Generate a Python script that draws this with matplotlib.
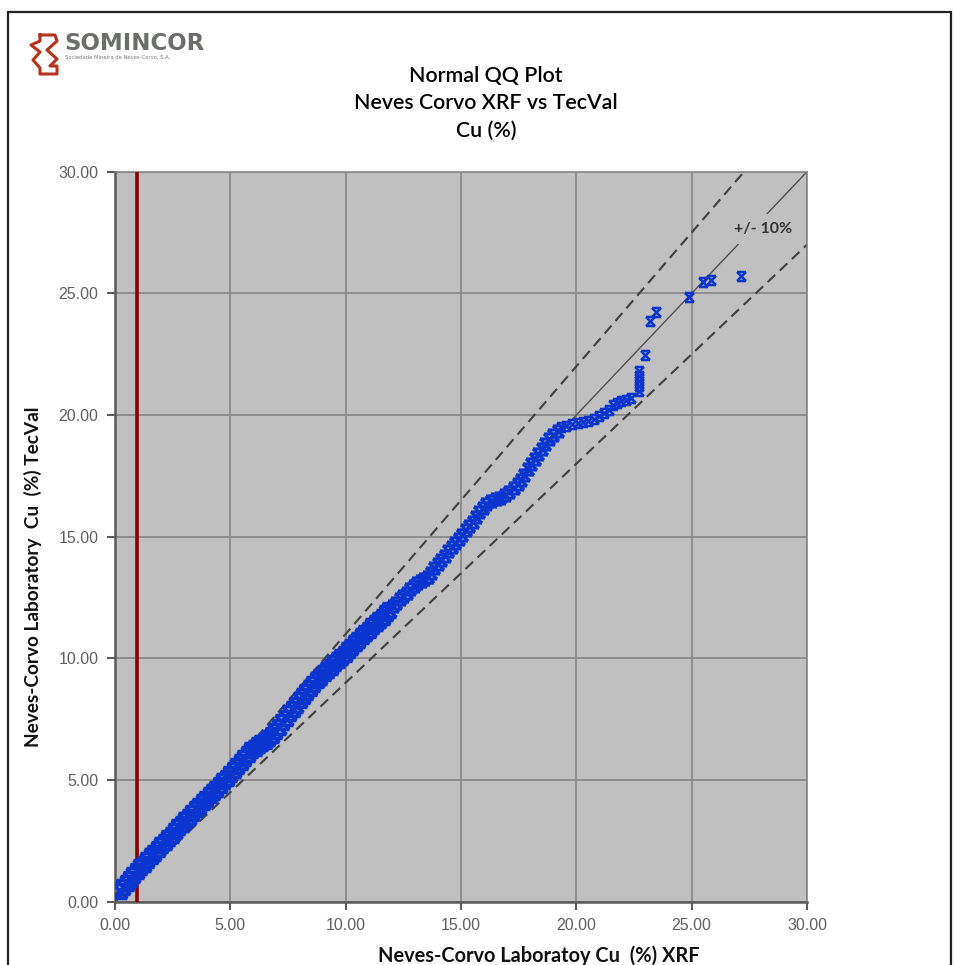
import matplotlib
matplotlib.use('Agg')
import matplotlib.pyplot as plt
from matplotlib.path import Path
from matplotlib.lines import Line2D
from matplotlib.patches import Rectangle

# QQ quantiles (XRF vs TecVal, Cu %)
cu_xrf = [0.20, 0.35, 0.50, 0.65, 0.80, 0.95, 1.10, 1.25, 1.40, 1.55,
          1.70, 1.85, 2.00, 2.15, 2.30, 2.45, 2.60, 2.75, 2.90, 3.05,
          3.20, 3.35, 3.50, 3.65, 3.80, 3.95, 4.10, 4.25, 4.40, 4.55,
          4.70, 4.85, 5.00, 5.15, 5.30, 5.45, 5.60, 5.75, 5.90, 6.05,
          6.20, 6.35, 6.50, 6.65, 6.80, 6.95, 7.10, 7.25, 7.40, 7.55,
          7.70, 7.85, 8.00, 8.15, 8.30, 8.45, 8.60, 8.75, 8.90, 9.05,
          9.20, 9.35, 9.50, 9.65, 9.80, 9.95, 10.10, 10.25, 10.40, 10.55,
          10.70, 10.85, 11.00, 11.15, 11.30, 11.45, 11.60, 11.75, 11.90, 12.05,
          12.20, 12.35, 12.50, 12.65, 12.80, 12.95, 13.10, 13.25, 13.40, 13.55,
          13.70, 13.85, 14.00, 14.15, 14.30, 14.45, 14.60, 14.75, 14.90, 15.05,
          15.20, 15.35, 15.50, 15.65, 15.80, 15.95, 16.10, 16.30, 16.50, 16.70,
          16.90, 17.10, 17.30, 17.45, 17.60, 17.75, 17.90, 18.05, 18.20, 18.35,
          18.50, 18.65, 18.80, 19.00, 19.20, 19.35, 19.56, 19.80, 20.06, 20.30,
          20.49, 20.75, 21.00, 21.20, 21.43, 21.58, 21.75, 21.94, 22.15, 22.37,
          22.70, 22.70, 22.70, 22.70, 22.70, 22.99, 23.19, 23.45, 24.89, 25.47,
          25.83, 27.13]
cu_tecval = [0.45, 0.62, 0.78, 0.95, 1.10, 1.26, 1.42, 1.56, 1.72, 1.87,
             2.02, 2.17, 2.32, 2.47, 2.62, 2.76, 2.90, 3.05, 3.20, 3.35,
             3.50, 3.64, 3.79, 3.93, 4.08, 4.22, 4.37, 4.51, 4.65, 4.80,
             4.95, 5.10, 5.25, 5.42, 5.58, 5.75, 5.92, 6.08, 6.22, 6.32,
             6.42, 6.52, 6.62, 6.72, 6.86, 7.02, 7.20, 7.38, 7.56, 7.74,
             7.92, 8.10, 8.28, 8.45, 8.62, 8.80, 8.95, 9.10, 9.24, 9.38,
             9.52, 9.66, 9.80, 9.93, 10.06, 10.20, 10.33, 10.47, 10.62, 10.76,
             10.90, 11.04, 11.18, 11.32, 11.45, 11.58, 11.72, 11.86, 12.00, 12.14,
             12.28, 12.42, 12.56, 12.70, 12.84, 12.98, 13.10, 13.20, 13.28, 13.36,
             13.50, 13.70, 13.88, 14.05, 14.22, 14.40, 14.58, 14.76, 14.92, 15.08,
             15.26, 15.42, 15.60, 15.80, 16.00, 16.18, 16.35, 16.48, 16.54, 16.60,
             16.70, 16.85, 17.00, 17.15, 17.35, 17.55, 17.80, 18.00, 18.20, 18.40,
             18.60, 18.80, 19.00, 19.20, 19.35, 19.50, 19.55, 19.62, 19.67, 19.72,
             19.74, 19.85, 19.95, 20.08, 20.22, 20.42, 20.48, 20.56, 20.62, 20.70,
             20.97, 21.18, 21.38, 21.59, 21.80, 22.48, 23.85, 24.22, 24.84, 25.47,
             25.54, 25.70]

detect_limit = 0.94
tolerance = 0.10
ticks = [0, 5, 10, 15, 20, 25, 30]

W, H = 955, 965
fig = plt.figure(figsize=(W / 100, H / 100), dpi=100)
fig.patch.set_facecolor('white')

def fx(px):
    return px / W

def fy(py):
    return 1 - py / H

# outer frame of the picture
fig.add_artist(Rectangle((fx(8), -0.05), fx(951) - fx(8), fy(12) + 0.05,
                         transform=fig.transFigure, fill=False,
                         edgecolor='#222222', linewidth=1.6))

# logo
logo_x = [40, 55, 57, 47, 57, 50, 57, 57, 40, 40, 33, 40, 31, 40, 40]
logo_y = [35, 35, 41, 50, 59, 66, 66, 74, 74, 68, 60, 52, 45, 41, 35]
fig.add_artist(Line2D([fx(v) for v in logo_x], [fy(v) for v in logo_y],
                      transform=fig.transFigure, color='#b5321e', linewidth=2.2))
fig.text(fx(64), fy(43), 'SOMINCOR', fontsize=16.5, fontweight='bold',
         color='#6b6e6b', family='DejaVu Sans', va='center', ha='left')
fig.text(fx(65), fy(57), 'Sociedade Mineira de Neves-Corvo, S.A.', fontsize=3.8,
         color='#7a7a7a', va='center', ha='left')

# title
title_font = ['Lato', 'DejaVu Sans']
for line, py in [('Normal QQ Plot', 76), ('Neves Corvo XRF vs TecVal', 103),
                 ('Cu (%)', 131)]:
    fig.text(fx(486), fy(py), line, fontsize=15.4, color='#000000',
             family=title_font, fontweight='semibold', ha='center', va='center')

ax = fig.add_axes([fx(115), fy(901.7), fx(807) - fx(115), fy(171.7) - fy(901.7)])
ax.set_facecolor('#c0c0c0')
ax.set_xlim(0, 30)
ax.set_ylim(0, 30)
ax.set_xticks(ticks)
ax.set_yticks(ticks)
ax.xaxis.set_major_formatter(lambda v, p: '%.2f' % v)
ax.yaxis.set_major_formatter(lambda v, p: '%.2f' % v)
ax.grid(True, color='#858585', linewidth=1.2)
ax.set_axisbelow(True)
for side in ['top', 'right']:
    ax.spines[side].set_color('#858585')
    ax.spines[side].set_linewidth(1.2)
for side in ['left', 'bottom']:
    ax.spines[side].set_color('#5a5a5a')
    ax.spines[side].set_linewidth(1.8)
ax.tick_params(direction='out', length=6, width=1.5, color='#5a5a5a',
               labelsize=11.5, labelcolor='#606060', pad=6)
for lab in ax.get_xticklabels() + ax.get_yticklabels():
    lab.set_family('Liberation Sans')

# 1:1 and +/-10% reference lines
ax.plot([0, 30], [0, 30], color='#505050', linewidth=1.0, zorder=2)
ax.plot([0, 30], [0, 30 * (1 + tolerance)], color='#404040', linewidth=1.5,
        linestyle=(0, (5, 3)), zorder=2)
ax.plot([0, 30], [0, 30 * (1 - tolerance)], color='#404040', linewidth=1.5,
        linestyle=(0, (5, 3)), zorder=2)
ax.text(28.1, 27.65, '+/- 10%', fontsize=11.5, fontweight='bold',
        color='#333333', family=title_font, ha='center', va='center', zorder=3,
        bbox=dict(facecolor='#c0c0c0', edgecolor='none', pad=6))

# detection limit
ax.axvline(detect_limit, color='#8b0000', linewidth=2.6, zorder=4)

# data markers: X with top/bottom bars; the crowded part is drawn heavier
hourglass = Path([(-1, -1), (1, 1), (-1, 1), (1, -1), (-1, 1), (1, 1), (-1, -1), (1, -1)],
                 [Path.MOVETO, Path.LINETO] * 4)
n_heavy = sum(1 for v in cu_xrf if v < 12.0)
n_dense = sum(1 for v in cu_xrf if v < 19.3)
tiers = [(0, n_heavy, 10, 2.6), (n_heavy, n_dense, 8, 2.2), (n_dense, len(cu_xrf), 6.5, 1.8)]
for i0, i1, ms, mw in tiers:
    ax.plot(cu_xrf[i0:i1], cu_tecval[i0:i1], linestyle='none', marker=hourglass,
            markersize=ms, markerfacecolor='none', markeredgecolor='#0a35d0',
            markeredgewidth=mw, zorder=5)

label_font = ['Lato', 'DejaVu Sans']
ax.set_xlabel('Neves-Corvo Laboratoy Cu  (%) XRF', fontsize=14.4, fontweight='bold',
              family=label_font, color='#111111', labelpad=8)
ax.xaxis.set_label_coords((539 - 115) / (807 - 115), -0.06)
ax.set_ylabel('Neves-Corvo Laboratory  Cu  (%) TecVal', fontsize=13.7, fontweight='bold',
              family=label_font, color='#111111')
ax.yaxis.set_label_coords((42 - 115) / (807 - 115), (901.7 - 577) / (901.7 - 171.7))

fig.savefig('out.png', dpi=100)
